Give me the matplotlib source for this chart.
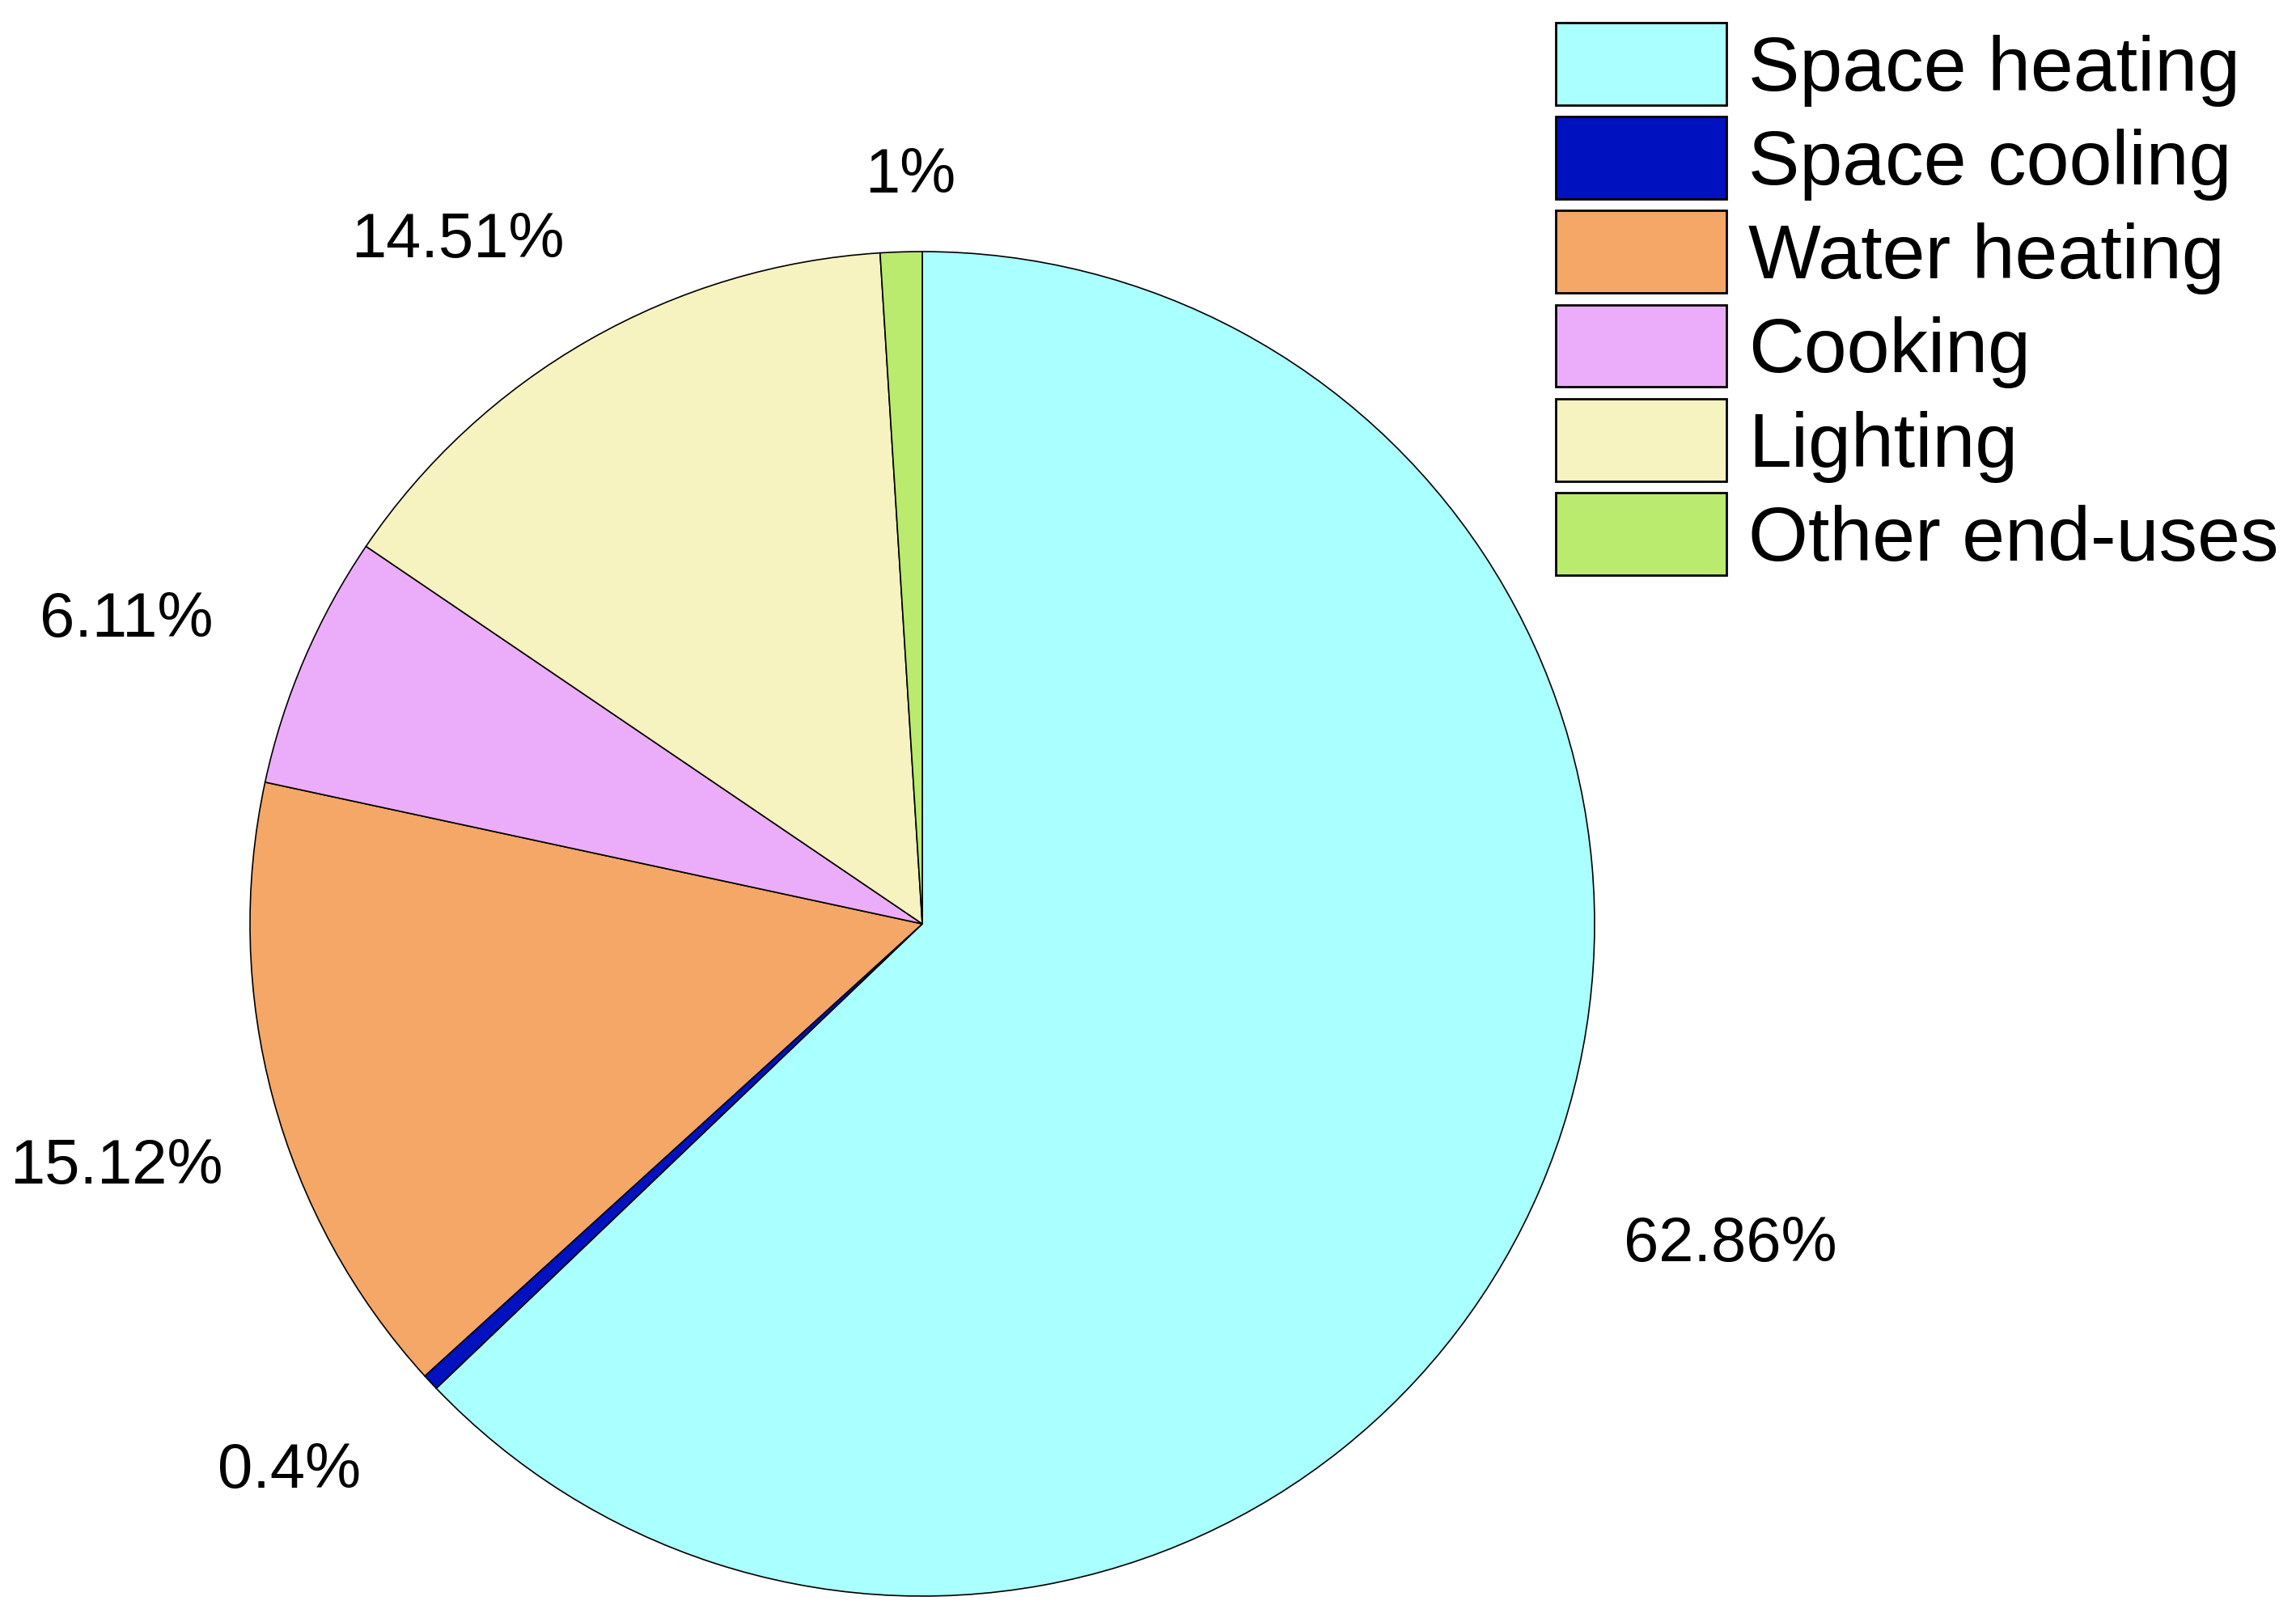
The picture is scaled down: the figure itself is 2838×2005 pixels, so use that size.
import numpy as np
import matplotlib.pyplot as plt
from matplotlib.patches import Patch

# data
categories = ['Space heating', 'Space cooling', 'Water heating', 'Cooking', 'Lighting', 'Other end-uses']
shares = [62.86, 0.4, 15.12, 6.11, 14.51, 1.0]
pct_labels = ['62.86%', '0.4%', '15.12%', '6.11%', '14.51%', '1%']

colors = ['#AAFFFF', '#0012C0', '#F4A766', '#EBADFA', '#F6F3C0', '#BAEA6E']

# label placement (radius factor, angle nudge in degrees)
label_r = [1.29, 1.24, 1.25, 1.27, 1.235, 1.12]
label_dang = [1.8, -2.4, 1.45, 2.0, 4.3, -0.9]

W, H = 2838, 2006
fig = plt.figure(figsize=(W / 100, H / 100), dpi=100)

# pie: centre (1140, 1143) px, radius 831 px
cx, cy, r = 1140, 1143, 831
ax = fig.add_axes([(cx - r) / W, (H - cy - r) / H, 2 * r / W, 2 * r / H])
ax.pie(shares, colors=colors, startangle=90, counterclock=False,
       wedgeprops=dict(edgecolor='black', linewidth=1.2))
ax.set_xlim(-1, 1)
ax.set_ylim(-1, 1)
ax.axis('off')

# percentage labels
cum = np.cumsum([0] + shares[:-1])
for i, lab in enumerate(pct_labels):
    mid = 90 - 360 * (cum[i] + shares[i] / 2) / 100 + label_dang[i]
    a = np.deg2rad(mid)
    ax.text(label_r[i] * np.cos(a), label_r[i] * np.sin(a) - 0.006, lab,
            ha='center', va='center', fontsize=56,
            family=['Liberation Sans', 'DejaVu Sans'], clip_on=False)

# legend
handles = [Patch(facecolor=c, edgecolor='black', linewidth=2) for c in colors]
fig.legend(handles, categories, loc='upper left',
           bbox_to_anchor=(1923 / W, 1 - 29 / H),
           frameon=False, borderpad=0, borderaxespad=0,
           handlelength=2.22, handleheight=1.27, handletextpad=0.28,
           labelspacing=0.14,
           prop=dict(family=['Liberation Sans', 'DejaVu Sans'], size=68.5))

fig.savefig('out.png', dpi=100)
